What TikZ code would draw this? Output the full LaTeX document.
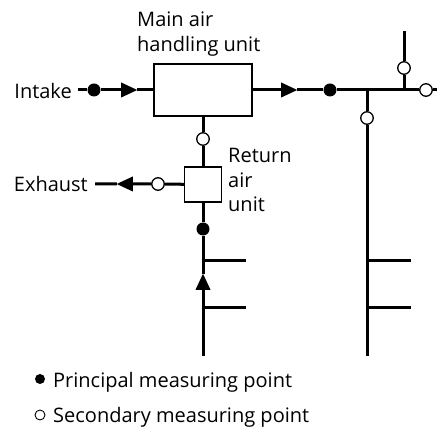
\documentclass[tikz,border=0pt]{standalone}
\usepackage{fontspec}
\setmainfont{Open Sans}
\usetikzlibrary{positioning, arrows.meta, shapes.geometric}

\begin{document}
\begin{tikzpicture}[x=1pt,y=-1pt,>=Stealth,
    duct/.style={line width=3pt},
    prin/.style={circle,fill=black,inner sep=0pt,minimum size=13pt},
    sec/.style={circle,draw,fill=white,line width=1.3pt,inner sep=0pt,minimum size=12.5pt},
    flow/.style={isosceles triangle,isosceles triangle stretches,fill=black,
                 inner sep=0pt,outer sep=0pt,minimum width=15pt,minimum height=16pt},
    lbl/.style={font=\fontsize{20}{24.5}\selectfont,inner sep=0pt}]
  \useasboundingbox (0,0) rectangle (437,430);
  % units
  \node[draw,line width=1.4pt,minimum width=98pt,minimum height=52pt](ahu) at (203,90){};
  \node[draw,line width=1.4pt,minimum width=37pt,minimum height=35pt](rau) at (203,184.5){};
  % free ends
  \coordinate (intk) at (78,90);
  \coordinate (exh) at (95,184);
  \coordinate (outl) at (437,90);
  \coordinate (j1) at (367,90);
  \coordinate (j2) at (404,90);
  \coordinate (topend) at (404,31);
  \coordinate (riser) at (367,356);
  \coordinate (ret) at (203,356);
  % measuring points and flow marks
  \node[prin](p1) at (94,90){};
  \node[flow](f1) at (126,90){};
  \node[flow](f2) at (286,90){};
  \node[prin](p2) at (330,90){};
  \node[sec](s1) at (404,68){};
  \node[sec](s2) at (367,118){};
  \node[sec](s3) at (426,90){};
  \node[sec](s4) at (203,139){};
  \node[sec](s5) at (158,184){};
  \node[flow,shape border rotate=180](f3) at (128,184){};
  \node[prin](p3) at (203,229){};
  \node[flow,shape border rotate=90](f4) at (203,285){};
  % ducts
  \draw[duct](intk) -- (p1) -- (f1) -- (ahu);
  \draw[duct](ahu) -- (f2) -- (p2) -- (j1) -- (j2) -- (s3) -- (outl);
  \draw[duct](j1) -- (s2) -- (riser);
  \draw[duct](j2) -- (s1) -- (topend);
  \draw[duct](ahu) -- (s4) -- (rau);
  \draw[duct](rau) -- (s5) -- (f3) -- (exh);
  \draw[duct](rau) -- (p3) -- (f4) -- (ret);
  % branches
  \foreach \y [count=\i] in {261,308}{
    \coordinate (rb\i) at (203,\y);
    \coordinate (rbe\i) at (246,\y);
    \coordinate (sb\i) at (367,\y);
    \coordinate (sbe\i) at (411,\y);
    \draw[duct](rb\i) -- (rbe\i);
    \draw[duct](sb\i) -- (sbe\i);
  }
  % labels (base = last line)
  \node[lbl,anchor=base west,align=left](mahu) at (137,51.5){Main air\\handling unit};
  \node[lbl,anchor=base east](intake) at (72,99){Intake};
  \node[lbl,anchor=base east](exhaust) at (88,192){Exhaust};
  \node[lbl,anchor=base west,align=left](rlbl) at (228,212){Return\\air\\unit};
  % key
  \node[prin,minimum size=10pt](kp) at (40,379){};
  \node[lbl,anchor=base west](kpt) at (53,388){Principal measuring point};
  \node[sec,minimum size=10pt,line width=0.9pt](ks) at (40,415){};
  \node[lbl,anchor=base west](kst) at (53,423){Secondary measuring point};
\end{tikzpicture}
\end{document}
